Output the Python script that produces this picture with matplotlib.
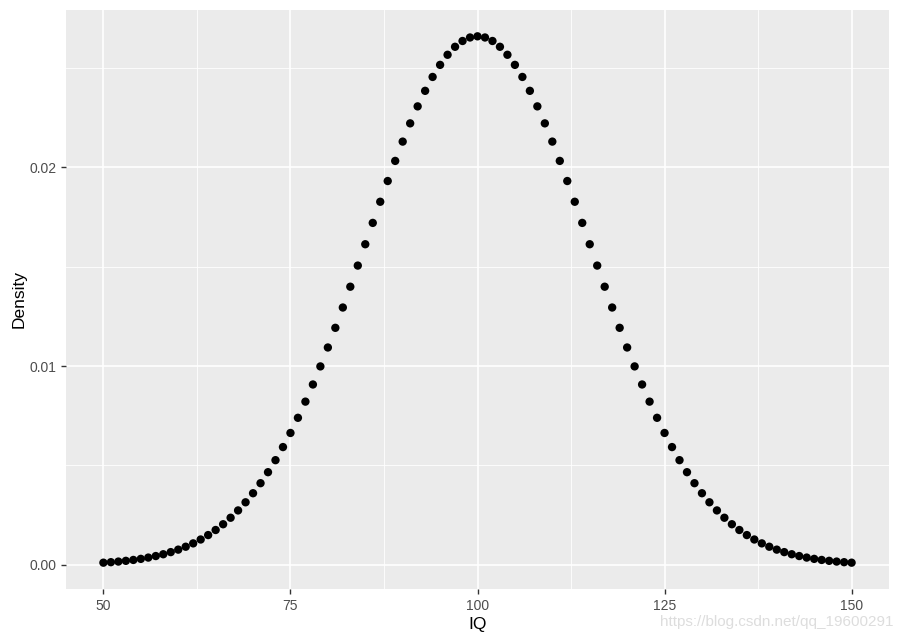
import matplotlib
matplotlib.use("Agg")
import matplotlib.pyplot as plt

# IQ values 50..150 and the density (peak at 100)
iq = list(range(50, 151))
half = [0.000103, 0.000128, 0.000159, 0.000196, 0.000241, 0.000295, 0.000360, 0.000437,
        0.000528, 0.000635, 0.000760, 0.000906, 0.001075, 0.001270, 0.001493, 0.001748,
        0.002038, 0.002365, 0.002733, 0.003143, 0.003599, 0.004104, 0.004658, 0.005263,
        0.005922, 0.006632, 0.007395, 0.008209, 0.009072, 0.009982, 0.010934, 0.011924,
        0.012946, 0.013993, 0.015057, 0.016131, 0.017205, 0.018269, 0.019313, 0.020325,
        0.021297, 0.022215, 0.023070, 0.023852, 0.024551, 0.025159, 0.025667, 0.026069,
        0.026361, 0.026537]
peak = [0.026596]
density = half + peak + half[::-1]

x_ticks = [50, 75, 100, 125, 150]
x_minor = [62.5, 87.5, 112.5, 137.5]
y_ticks = [0.00, 0.01, 0.02]
y_labels = ["0.00", "0.01", "0.02"]
y_minor = [0.005, 0.015, 0.025]

plt.rcParams['font.family'] = ['Liberation Sans', 'DejaVu Sans']

fig = plt.figure(figsize=(9.05, 6.38), dpi=100)
ax = fig.add_axes([66 / 905, 49 / 638, 823 / 905, 579 / 638])
ax.set_facecolor("#EBEBEB")
for s in ax.spines.values():
    s.set_visible(False)

# grid like ggplot
for v in x_minor:
    ax.axvline(v, color="white", lw=0.6, zorder=1)
for v in y_minor:
    ax.axhline(v, color="white", lw=0.6, zorder=1)
for v in x_ticks:
    ax.axvline(v, color="white", lw=1.2, zorder=1)
for v in y_ticks:
    ax.axhline(v, color="white", lw=1.2, zorder=1)

ax.scatter(iq, density, s=36, color="black", edgecolors="none", zorder=3)

rng_y = max(density) - min(density)
ax.set_xlim(50 - 5, 150 + 5)
ax.set_ylim(min(density) - 0.05 * rng_y, max(density) + 0.05 * rng_y)

ax.set_xticks(x_ticks)
ax.set_yticks(y_ticks)
ax.set_yticklabels(y_labels)
ax.tick_params(axis="both", colors="#333333", labelcolor="#4D4D4D",
               labelsize=10, length=3.5, width=1)

ax.set_xlabel("IQ", fontsize=12.5, labelpad=3)
ax.set_ylabel("Density", fontsize=12.5, labelpad=2)

fig.text(893 / 905, 9 / 638, "https://blog.csdn.net/qq_19600291", ha="right",
         va="bottom", fontsize=11, color="#DDDDDD")

fig.savefig("out.png", dpi=100)
